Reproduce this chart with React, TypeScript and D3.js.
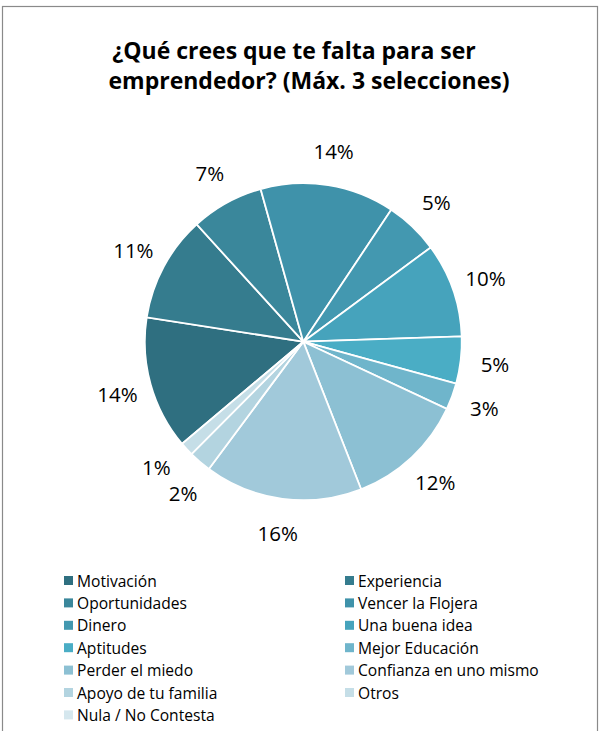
import { useMemo } from 'react'
import { pie, arc, PieArcDatum } from 'd3'

const TITLE_LINES = ['¿Qué crees que te falta para ser', 'emprendedor? (Máx. 3 selecciones)']

const CATEGORIES = [
  'Motivación',
  'Experiencia',
  'Oportunidades',
  'Vencer la Flojera',
  'Dinero',
  'Una buena idea',
  'Aptitudes',
  'Mejor Educación',
  'Perder el miedo',
  'Confianza en uno mismo',
  'Apoyo de tu familia',
  'Otros',
  'Nula / No Contesta',
]

// share of answers (%)
const VALUES = [13.6, 10.8, 7.4, 13.7, 5.5, 9.6, 4.8, 2.7, 12.1, 16.1, 2.3, 1.4, 0]

const COLORS = [
  '#2f6f80',
  '#357c8e',
  '#3a879b',
  '#3f92aa',
  '#4398b0',
  '#46a3bc',
  '#4aadc5',
  '#6fb5cb',
  '#8cc0d3',
  '#a1c9da',
  '#b3d4e0',
  '#c5dee7',
  '#d5e7ee',
]

const W = 600
const H = 731
const CX = 303.3
const CY = 341.7
const R = 158.5
const LABEL_R = 193
const START = (229.9 * Math.PI) / 180
const MIN_SEP = (11 * Math.PI) / 180

type Slice = { name: string; value: number; color: string }

// spread label angles so neighbouring small slices don't collide
function spreadAngles(angles: number[]) {
  const out = angles.slice()
  for (let it = 0; it < 20; it++) {
    for (let i = 0; i < out.length - 1; i++) {
      const gap = out[i + 1] - out[i]
      if (gap < MIN_SEP) {
        const push = (MIN_SEP - gap) / 2
        out[i] -= push
        out[i + 1] += push
      }
    }
  }
  return out
}

export default function App() {
  const data: Slice[] = CATEGORIES.map((name, i) => ({ name, value: VALUES[i], color: COLORS[i] }))
  const total = VALUES.reduce((a, b) => a + b, 0)

  const arcs = useMemo(
    () =>
      pie<Slice>()
        .sort(null)
        .value((d) => d.value)
        .startAngle(START)
        .endAngle(START + 2 * Math.PI)(data),
    [],
  )
  const slicePath = arc<PieArcDatum<Slice>>().innerRadius(0).outerRadius(R)

  const shown = arcs.filter((a) => a.data.value > 0)
  const labelAngles = spreadAngles(shown.map((a) => (a.startAngle + a.endAngle) / 2))

  const font = '"Open Sans", Lato, sans-serif'

  return (
    <svg
      width={W}
      height={H}
      viewBox={`0 0 ${W} ${H}`}
      style={{ position: 'absolute', left: 0, top: 0, background: '#fff' }}
      fontFamily={font}
    >
      <rect x={2.5} y={6.5} width={595} height={740} fill="#fff" stroke="#8a8a8a" strokeWidth={1.2} />

      <text fontSize={23} fontWeight={700} fill="#000" textAnchor="middle">
        <tspan x={294} y={59}>
          {TITLE_LINES[0]}
        </tspan>
        <tspan x={309} y={89}>
          {TITLE_LINES[1]}
        </tspan>
      </text>

      <g transform={`translate(${CX},${CY})`}>
        {shown.map((a) => (
          <path key={a.data.name} d={slicePath(a) ?? ''} fill={a.data.color} stroke="#fff" strokeWidth={1.8} />
        ))}
        {shown.map((a, i) => {
          const ang = labelAngles[i]
          const x = Math.sin(ang) * LABEL_R
          const y = -Math.cos(ang) * LABEL_R
          return (
            <text
              key={a.data.name + '-l'}
              x={x}
              y={y}
              textAnchor="middle"
              dominantBaseline="central"
              fontSize={20.5}
              fill="#000"
            >
              {`${Math.round((a.data.value / total) * 100)}%`}
            </text>
          )
        })}
      </g>

      <g fontSize={15.6} fill="#000">
        {data.map((d, i) => {
          const col = i % 2
          const row = Math.floor(i / 2)
          const x = col === 0 ? 64 : 345
          const y = 580.5 + row * 22.4
          return (
            <g key={d.name} transform={`translate(${x},${y})`}>
              <rect x={0} y={-4.5} width={9} height={9} fill={d.color} />
              <text x={13} y={0} dominantBaseline="central">
                {d.name}
              </text>
            </g>
          )
        })}
      </g>
    </svg>
  )
}
